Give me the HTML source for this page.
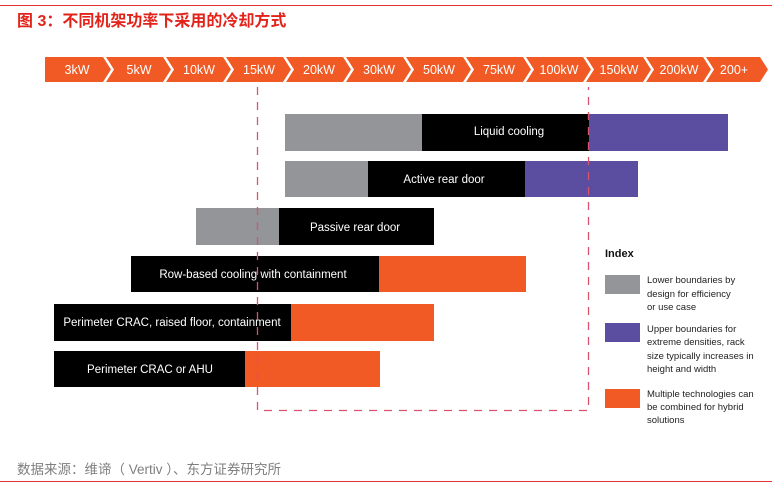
<!DOCTYPE html>
<html><head><meta charset="utf-8"><style>
html,body{margin:0;padding:0;background:#fff}
svg{display:block}
</style></head><body>
<svg width="782" height="487" viewBox="0 0 782 487" xmlns="http://www.w3.org/2000/svg" font-family="Liberation Sans, Noto Sans CJK SC, sans-serif">
<rect x="0" y="5" width="772" height="1" fill="#e8302f"/>
<text x="17" y="26" font-size="16" font-weight="bold" fill="#e2231a" font-family="Liberation Sans, Noto Sans CJK SC, sans-serif">图 3：不同机架功率下采用的冷却方式</text>
<g fill="#f15a24">
<polygon points="45,57 103,57 111,69.5 103,82 45,82"/>
<polygon points="106,57 163,57 171,69.5 163,82 106,82 114,69.5"/>
<polygon points="166,57 223,57 231,69.5 223,82 166,82 174,69.5"/>
<polygon points="226,57 283,57 291,69.5 283,82 226,82 234,69.5"/>
<polygon points="286,57 343,57 351,69.5 343,82 286,82 294,69.5"/>
<polygon points="346,57 403,57 411,69.5 403,82 346,82 354,69.5"/>
<polygon points="406,57 463,57 471,69.5 463,82 406,82 414,69.5"/>
<polygon points="466,57 523,57 531,69.5 523,82 466,82 474,69.5"/>
<polygon points="526,57 583,57 591,69.5 583,82 526,82 534,69.5"/>
<polygon points="586,57 643,57 651,69.5 643,82 586,82 594,69.5"/>
<polygon points="646,57 703,57 711,69.5 703,82 646,82 654,69.5"/>
<polygon points="706,57 760,57 768,69.5 760,82 706,82 714,69.5"/>
</g>
<g fill="#fff" font-size="12.5" text-anchor="middle">
<text x="77" y="74">3kW</text><text x="139" y="74">5kW</text><text x="199" y="74">10kW</text>
<text x="259" y="74">15kW</text><text x="319" y="74">20kW</text><text x="379" y="74">30kW</text>
<text x="439" y="74">50kW</text><text x="499" y="74">75kW</text><text x="559" y="74">100kW</text>
<text x="619" y="74">150kW</text><text x="679" y="74">200kW</text><text x="734" y="74">200+</text>
</g>
<rect x="285" y="114" width="137" height="37" fill="#939598"/>
<rect x="422" y="114" width="167" height="37" fill="#000"/>
<rect x="589" y="114" width="139" height="37" fill="#5b4ea1"/>
<rect x="285" y="161" width="83" height="36" fill="#939598"/>
<rect x="368" y="161" width="157" height="36" fill="#000"/>
<rect x="525" y="161" width="113" height="36" fill="#5b4ea1"/>
<rect x="196" y="208" width="83" height="37" fill="#939598"/>
<rect x="279" y="208" width="155" height="37" fill="#000"/>
<rect x="131" y="256" width="248" height="36" fill="#000"/>
<rect x="379" y="256" width="147" height="36" fill="#f15a24"/>
<rect x="54" y="304" width="237" height="37" fill="#000"/>
<rect x="291" y="304" width="143" height="37" fill="#f15a24"/>
<rect x="54" y="351" width="191" height="36" fill="#000"/>
<rect x="245" y="351" width="135" height="36" fill="#f15a24"/>
<g fill="#fff" font-size="11.5" text-anchor="middle">
<text x="509" y="135">Liquid cooling</text>
<text x="444" y="183">Active rear door</text>
<text x="355" y="231">Passive rear door</text>
<text x="253" y="278">Row-based cooling with containment</text>
<text x="172" y="326">Perimeter CRAC, raised floor, containment</text>
<text x="150" y="373">Perimeter CRAC or AHU</text>
</g>
<path d="M257.5 87 V410.5 H588.5 V87" fill="none" stroke="#d9536e" stroke-width="1.3" stroke-dasharray="8,7"/>
<text x="605" y="257" font-size="11" font-weight="bold" fill="#111">Index</text>
<rect x="605" y="275" width="35" height="19" fill="#939598"/>
<rect x="605" y="323" width="35" height="19" fill="#5b4ea1"/>
<rect x="605" y="389" width="35" height="19" fill="#f15a24"/>
<g font-size="9.5" fill="#222">
<text x="647" y="283">Lower boundaries by</text>
<text x="647" y="297">design for efficiency</text>
<text x="647" y="310">or use case</text>
<text x="647" y="332">Upper boundaries for</text>
<text x="647" y="345">extreme densities, rack</text>
<text x="647" y="359">size typically increases in</text>
<text x="647" y="372">height and width</text>
<text x="647" y="397">Multiple technologies can</text>
<text x="647" y="410">be combined for hybrid</text>
<text x="647" y="423">solutions</text>
</g>
<text x="17" y="474" font-size="13.5" fill="#7f7f7f">数据来源：维谛（ Vertiv ）、东方证券研究所</text>
<rect x="0" y="481" width="772" height="1" fill="#e8302f"/>
</svg>
</body></html>
